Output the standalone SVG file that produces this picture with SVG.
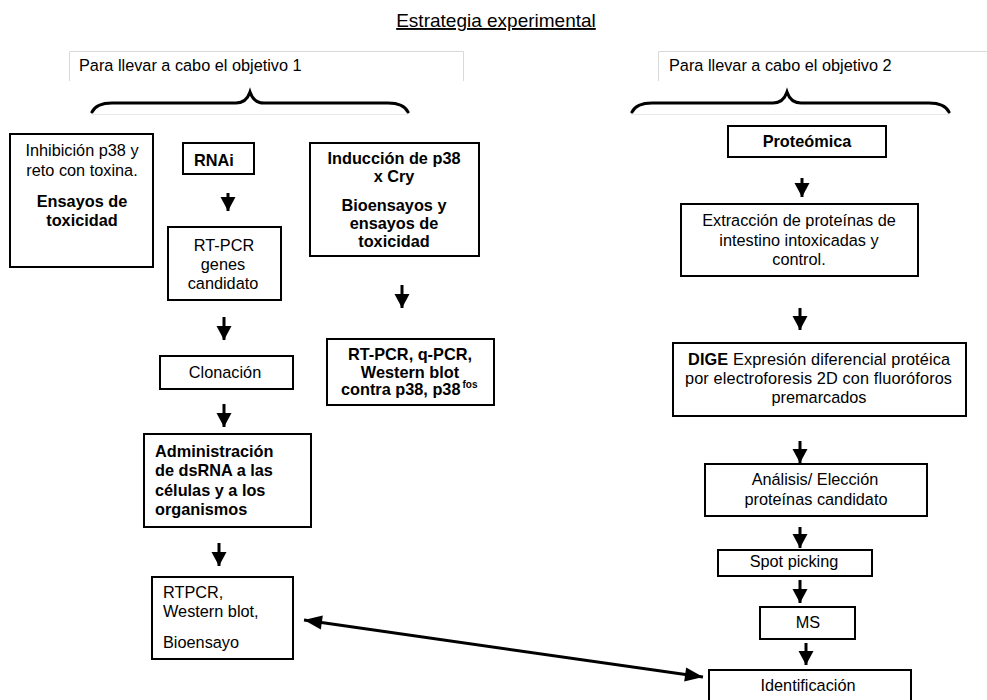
<svg xmlns="http://www.w3.org/2000/svg" width="987" height="700" viewBox="0 0 987 700">
<style>
text{font-family:"Liberation Sans",Arial,sans-serif;font-size:16.3px;fill:#000}
.b{font-weight:bold}
.c{text-anchor:middle}
.box{fill:#fff;stroke:#000;stroke-width:2}
.frame{fill:none;stroke:#d9d9d9;stroke-width:1}
.faint{fill:none;stroke:#e8e8e8;stroke-width:1}
.brace{fill:none;stroke:#000;stroke-width:3;stroke-linecap:round}
.arr{stroke:#000;stroke-width:3;fill:none;marker-end:url(#ah)}
.dbl{stroke:#000;stroke-width:3;fill:none;marker-end:url(#ah2);marker-start:url(#ah2s)}
</style>
<defs>
<marker id="ah" markerUnits="userSpaceOnUse" markerWidth="15" markerHeight="16" viewBox="0 0 15 16" refX="14" refY="8" orient="auto" overflow="visible">
<path d="M0,0.5 L14,8 L0,15.5 Z" fill="#000"/>
</marker>
<marker id="ah2" markerUnits="userSpaceOnUse" markerWidth="19" markerHeight="15" viewBox="0 0 19 15" refX="18" refY="7.5" orient="auto" overflow="visible">
<path d="M0,0.5 L18,7.5 L0,14.5 Z" fill="#000"/>
</marker>
<marker id="ah2s" markerUnits="userSpaceOnUse" markerWidth="19" markerHeight="15" viewBox="0 0 19 15" refX="1" refY="7.5" orient="auto" overflow="visible">
<path d="M19,0.5 L1,7.5 L19,14.5 Z" fill="#000"/>
</marker>
</defs>
<rect width="987" height="700" fill="#fff"/>

<g id="title">
<text class="c" x="496" y="27" style="font-size:19px" text-decoration="underline">Estrategia experimental</text>
</g>

<g id="objetivo1">
<path class="frame" d="M69.5,81 V51.5 H463.5 V81"/>
<text x="79" y="71">Para llevar a cabo el objetivo 1</text>
<line class="faint" x1="92" y1="114.5" x2="408" y2="114.5"/>
<path class="brace" d="M92,112 C95,106 101,103 112,103 H236 C244,103 248,98 250,92 C252,98 256,103 264,103 H388 C399,103 405,106 408,112"/>
</g>

<g id="objetivo2">
<path class="frame" d="M658.5,81 V51.5 H990"/>
<text x="669" y="71">Para llevar a cabo el objetivo 2</text>
<line class="faint" x1="631" y1="114.5" x2="950" y2="114.5"/>
<path class="brace" d="M632,112 C635,106 641,103 652,103 H773 C781,103 785,98 787,92 C789,98 793,103 801,103 H929 C940,103 946,106 949,112"/>
</g>

<g id="inhibicion">
<rect class="box" x="10" y="134" width="143" height="133"/>
<text class="c" x="82" y="156">Inhibición p38 y</text>
<text class="c" x="82" y="176">reto con toxina.</text>
<text class="c b" x="82" y="207">Ensayos de</text>
<text class="c b" x="82" y="226">toxicidad</text>
</g>

<g id="rnai">
<rect class="box" x="183" y="143" width="71" height="31"/>
<text class="b" x="194" y="166">RNAi</text>
</g>

<g id="rtpcr-genes">
<rect class="box" x="168" y="227" width="113" height="73"/>
<text class="c" x="224" y="251">RT-PCR</text>
<text class="c" x="223" y="270">genes</text>
<text class="c" x="223" y="289">candidato</text>
</g>

<g id="clonacion">
<rect class="box" x="160" y="356" width="133" height="33"/>
<text class="c" x="225" y="378">Clonación</text>
</g>

<g id="administracion">
<rect class="box" x="144" y="434" width="167" height="93"/>
<text class="b" x="155" y="457">Administración</text>
<text class="b" x="155" y="476">de dsRNA a las</text>
<text class="b" x="155" y="496">células y a los</text>
<text class="b" x="155" y="515">organismos</text>
</g>

<g id="rtpcr-western">
<rect class="box" x="152" y="577" width="141" height="82"/>
<text x="163" y="598">RTPCR,</text>
<text x="163" y="617">Western blot,</text>
<text x="163" y="648">Bioensayo</text>
</g>

<g id="induccion">
<rect class="box" x="310" y="143" width="169" height="113"/>
<text class="c b" x="394" y="164">Inducción de p38</text>
<text class="c b" x="394" y="182">x Cry</text>
<text class="c b" x="394" y="211">Bioensayos y</text>
<text class="c b" x="394" y="229">ensayos de</text>
<text class="c b" x="394" y="247">toxicidad</text>
</g>

<g id="rtpcr-qpcr">
<rect class="box" x="327" y="339" width="167" height="66"/>
<text class="c b" x="410" y="360">RT-PCR, q-PCR,</text>
<text class="c b" x="410" y="378">Western blot</text>
<text class="b" x="341" y="395">contra p38, p38<tspan dx="2" dy="-7" style="font-size:10px">fos</tspan></text>
</g>

<g id="proteomica">
<rect class="box" x="728" y="126" width="158" height="31"/>
<text class="c b" x="807" y="147">Proteómica</text>
</g>

<g id="extraccion">
<rect class="box" x="681" y="204" width="237" height="72"/>
<text class="c" x="799" y="226">Extracción de proteínas de</text>
<text class="c" x="799" y="246">intestino intoxicadas y</text>
<text class="c" x="799" y="265">control.</text>
</g>

<g id="dige">
<rect class="box" x="673" y="343" width="293" height="73"/>
<text x="688" y="365" textLength="262" lengthAdjust="spacing"><tspan class="b">DIGE</tspan> Expresión diferencial protéica</text>
<text x="685" y="384" textLength="267" lengthAdjust="spacing">por electroforesis 2D con fluoróforos</text>
<text class="c" x="819" y="403">premarcados</text>
</g>

<g id="analisis">
<rect class="box" x="705" y="464" width="222" height="52"/>
<text class="c" x="815" y="485">Análisis/ Elección</text>
<text class="c" x="816" y="505">proteínas candidato</text>
</g>

<g id="spot">
<rect class="box" x="718" y="550" width="154" height="26"/>
<text class="c" x="794" y="567">Spot picking</text>
</g>

<g id="ms">
<rect class="box" x="760" y="607" width="95" height="32"/>
<text class="c" x="808" y="628">MS</text>
</g>

<g id="identificacion">
<rect class="box" x="709" y="670" width="202" height="40"/>
<text class="c" x="808" y="691">Identificación</text>
</g>

<g id="connectors">
<line class="arr" x1="228" y1="193" x2="228" y2="211"/>
<line class="arr" x1="224" y1="317" x2="224" y2="340"/>
<line class="arr" x1="224" y1="404" x2="224" y2="427"/>
<line class="arr" x1="219" y1="543" x2="219" y2="566"/>
<line class="arr" x1="402" y1="285" x2="402" y2="308"/>
<line class="arr" x1="802" y1="178" x2="802" y2="197"/>
<line class="arr" x1="800" y1="308" x2="800" y2="330"/>
<line class="arr" x1="800" y1="441" x2="800" y2="463"/>
<line class="arr" x1="800" y1="527" x2="800" y2="548"/>
<line class="arr" x1="800" y1="580" x2="800" y2="603"/>
<line class="arr" x1="806" y1="643" x2="806" y2="665"/>
<line class="dbl" x1="304" y1="620" x2="703" y2="677"/>
</g>
</svg>
